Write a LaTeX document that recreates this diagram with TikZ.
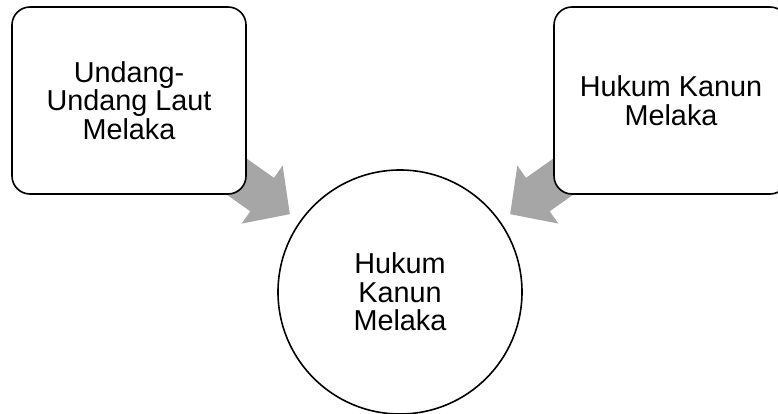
\documentclass[tikz,border=0pt]{standalone}
\usepackage{fontspec}
\setmainfont{Liberation Sans}
\usetikzlibrary{arrows.meta,backgrounds}
\definecolor{arrowgray}{RGB}{166,166,166}

\begin{document}
\begin{tikzpicture}[x=1pt,y=1pt,
	box/.style={draw, line width=1.6pt, rounded corners=18pt, fill=white,
		minimum width=234pt, minimum height=187pt, align=center,
		font=\fontsize{28.8}{28.6}\selectfont},
	hub/.style={circle, draw, line width=1.6pt, fill=white,
		minimum size=244pt, align=center, font=\fontsize{28.8}{28.6}\selectfont},
	feed/.style={draw=arrowgray, line width=41pt,
		-{Triangle[length=34pt,width=69pt]}, shorten >=12pt}]
					% Page frame, the right box runs past its edge
					\useasboundingbox (0,0) rectangle (778,413);
					\clip (0,0) rectangle (778,413);
					
					% Two sources at the top
					\node[box] (laut) at (129,312.5) {Undang-\\Undang Laut\\Melaka};
					\node[box] (kanun) at (671,312.5) {Hukum Kanun\\Melaka};
					
					% Result in the middle
					\node[hub] (hukum) at (400,121) {Hukum\\Kanun\\Melaka};
					
					% Grey arrows, behind the boxes
					\begin{scope}[on background layer]
					\draw[feed] (laut.center) -- (hukum);
					\draw[feed] (kanun.center) -- (hukum);
					\end{scope}
					\end{tikzpicture}
\end{document}
